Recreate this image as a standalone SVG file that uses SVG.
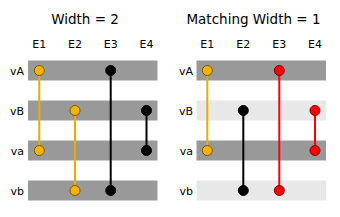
<svg xmlns="http://www.w3.org/2000/svg" width="340" height="217" viewBox="0 0 340 217">
<style>
text{font-family:"DejaVu Sans",sans-serif;fill:#000}
.t{font-size:13.5px;text-anchor:middle}
.c{font-size:11px;text-anchor:middle}
.r{font-size:11px;text-anchor:end}
.dk{fill:#999999}
.lt{fill:#e8e8e8}
.lo{stroke:#eeaa00;stroke-width:2;fill:none}
.lb{stroke:#000;stroke-width:2;fill:none}
.lr{stroke:#ff0000;stroke-width:2;fill:none}
.no{fill:#f5b400;stroke:#7a5500;stroke-width:1}
.nb{fill:#000;stroke:#000;stroke-width:1}
.nr{fill:#ff0000;stroke:#800000;stroke-width:1}
</style>
<rect width="340" height="217" fill="#fff"/>
<g id="left">
<text class="t" x="85" y="24">Width = 2</text>
<text class="c" x="39.3" y="48">E1</text>
<text class="c" x="75" y="48">E2</text>
<text class="c" x="110.7" y="48">E3</text>
<text class="c" x="146.5" y="48">E4</text>
<g id="L-vA"><rect class="dk" x="28" y="60.5" width="129.5" height="20"/><text class="r" x="24" y="74.5">vA</text></g>
<g id="L-vB"><rect class="dk" x="28" y="100.5" width="129.5" height="20"/><text class="r" x="24" y="114.5">vB</text></g>
<g id="L-va"><rect class="dk" x="28" y="140.5" width="129.5" height="20"/><text class="r" x="24" y="154.5">va</text></g>
<g id="L-vb"><rect class="dk" x="28" y="180.5" width="129.5" height="20"/><text class="r" x="24" y="194.5">vb</text></g>
<g id="L-edges">
<line class="lo" x1="39.3" y1="70.5" x2="39.3" y2="150.5"/>
<line class="lo" x1="75" y1="110.5" x2="75" y2="190.5"/>
<line class="lb" x1="110.7" y1="70.5" x2="110.7" y2="190.5"/>
<line class="lb" x1="146.5" y1="110.5" x2="146.5" y2="150.5"/>
</g>
<g id="L-nodes">
<circle class="no" cx="39.3" cy="70.5" r="5"/>
<circle class="no" cx="39.3" cy="150.5" r="5"/>
<circle class="no" cx="75" cy="110.5" r="5"/>
<circle class="no" cx="75" cy="190.5" r="5"/>
<circle class="nb" cx="110.7" cy="70.5" r="5"/>
<circle class="nb" cx="110.7" cy="190.5" r="5"/>
<circle class="nb" cx="146.5" cy="110.5" r="5"/>
<circle class="nb" cx="146.5" cy="150.5" r="5"/>
</g>
</g>
<g id="right">
<text class="t" x="253.5" y="24">Matching Width = 1</text>
<text class="c" x="207.3" y="48">E1</text>
<text class="c" x="243.3" y="48">E2</text>
<text class="c" x="279.3" y="48">E3</text>
<text class="c" x="315" y="48">E4</text>
<g id="R-vA"><rect class="dk" x="196.5" y="60.5" width="129.5" height="20"/><text class="r" x="193" y="74.5">vA</text></g>
<g id="R-vB"><rect class="lt" x="196.5" y="100.5" width="129.5" height="20"/><text class="r" x="193" y="114.5">vB</text></g>
<g id="R-va"><rect class="dk" x="196.5" y="140.5" width="129.5" height="20"/><text class="r" x="193" y="154.5">va</text></g>
<g id="R-vb"><rect class="lt" x="196.5" y="180.5" width="129.5" height="20"/><text class="r" x="193" y="194.5">vb</text></g>
<g id="R-edges">
<line class="lo" x1="207.3" y1="70.5" x2="207.3" y2="150.5"/>
<line class="lb" x1="243.3" y1="110.5" x2="243.3" y2="190.5"/>
<line class="lr" x1="279.3" y1="70.5" x2="279.3" y2="190.5"/>
<line class="lr" x1="315" y1="110.5" x2="315" y2="150.5"/>
</g>
<g id="R-nodes">
<circle class="no" cx="207.3" cy="70.5" r="5"/>
<circle class="no" cx="207.3" cy="150.5" r="5"/>
<circle class="nb" cx="243.3" cy="110.5" r="5"/>
<circle class="nb" cx="243.3" cy="190.5" r="5"/>
<circle class="nr" cx="279.3" cy="70.5" r="5"/>
<circle class="nr" cx="279.3" cy="190.5" r="5"/>
<circle class="nr" cx="315" cy="110.5" r="5"/>
<circle class="nr" cx="315" cy="150.5" r="5"/>
</g>
</g>
</svg>
